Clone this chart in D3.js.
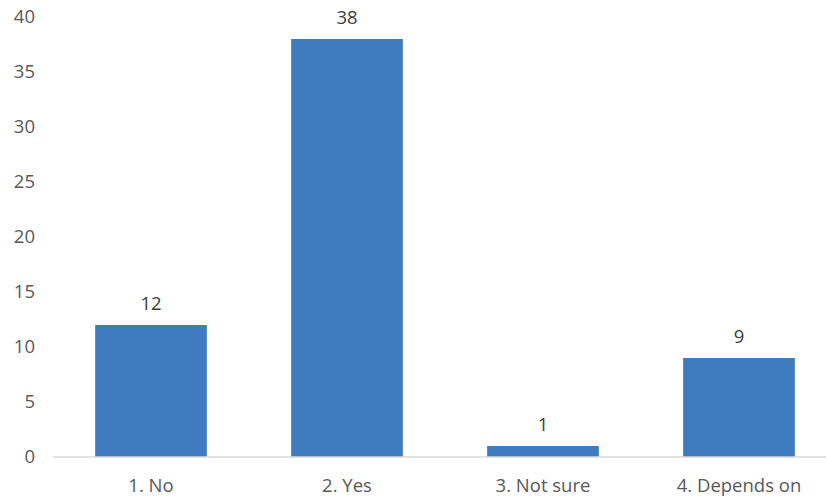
<!DOCTYPE html>
<html><head><meta charset="utf-8">
<script src="https://cdn.jsdelivr.net/npm/d3@7"></script>
<style>body{margin:0;background:#fff}svg{display:block}</style>
</head><body>
<svg id="c" width="826" height="500"></svg>
<script>
const categories = ["1. No", "2. Yes", "3. Not sure", "4. Depends on"];
const values = [12, 38, 1, 9];
const yTicks = [0, 5, 10, 15, 20, 25, 30, 35, 40];

const svg = d3.select("#c");
const font = "'Open Sans', sans-serif";
const fs = 18.5;
const textColor = "#595959";
const x = d3.scaleBand().domain(categories).range([53, 837]).paddingInner(0.43).paddingOuter(0.215);
const y = d3.scaleLinear().domain([0, 40]).range([457, 17]);

// y tick labels
svg.append("g").selectAll("text").data(yTicks).join("text")
  .attr("x", 35).attr("y", d => y(d)).attr("dy", "0.35em")
  .attr("text-anchor", "end").attr("font-family", font).attr("font-size", fs)
  .attr("fill", textColor).text(d => d);

// bars
svg.append("g").selectAll("rect").data(values).join("rect")
  .attr("x", (d, i) => x(categories[i])).attr("width", x.bandwidth())
  .attr("y", d => y(d)).attr("height", d => y(0) - y(d))
  .attr("fill", "#3f7cbf");

// axis line
svg.append("line").attr("x1", 53).attr("x2", 837).attr("y1", y(0)).attr("y2", y(0))
  .attr("stroke", "#d9d9d9").attr("stroke-width", 1.5);

// value labels
svg.append("g").selectAll("text").data(values).join("text")
  .attr("x", (d, i) => x(categories[i]) + x.bandwidth() / 2).attr("y", d => y(d) - 15)
  .attr("text-anchor", "middle").attr("font-family", font).attr("font-size", fs)
  .attr("fill", "#404040").text(d => d);

// category labels
svg.append("g").selectAll("text").data(categories).join("text")
  .attr("x", d => x(d) + x.bandwidth() / 2).attr("y", 492)
  .attr("text-anchor", "middle").attr("font-family", font).attr("font-size", fs)
  .attr("fill", textColor).text(d => d);
</script>
</body></html>
